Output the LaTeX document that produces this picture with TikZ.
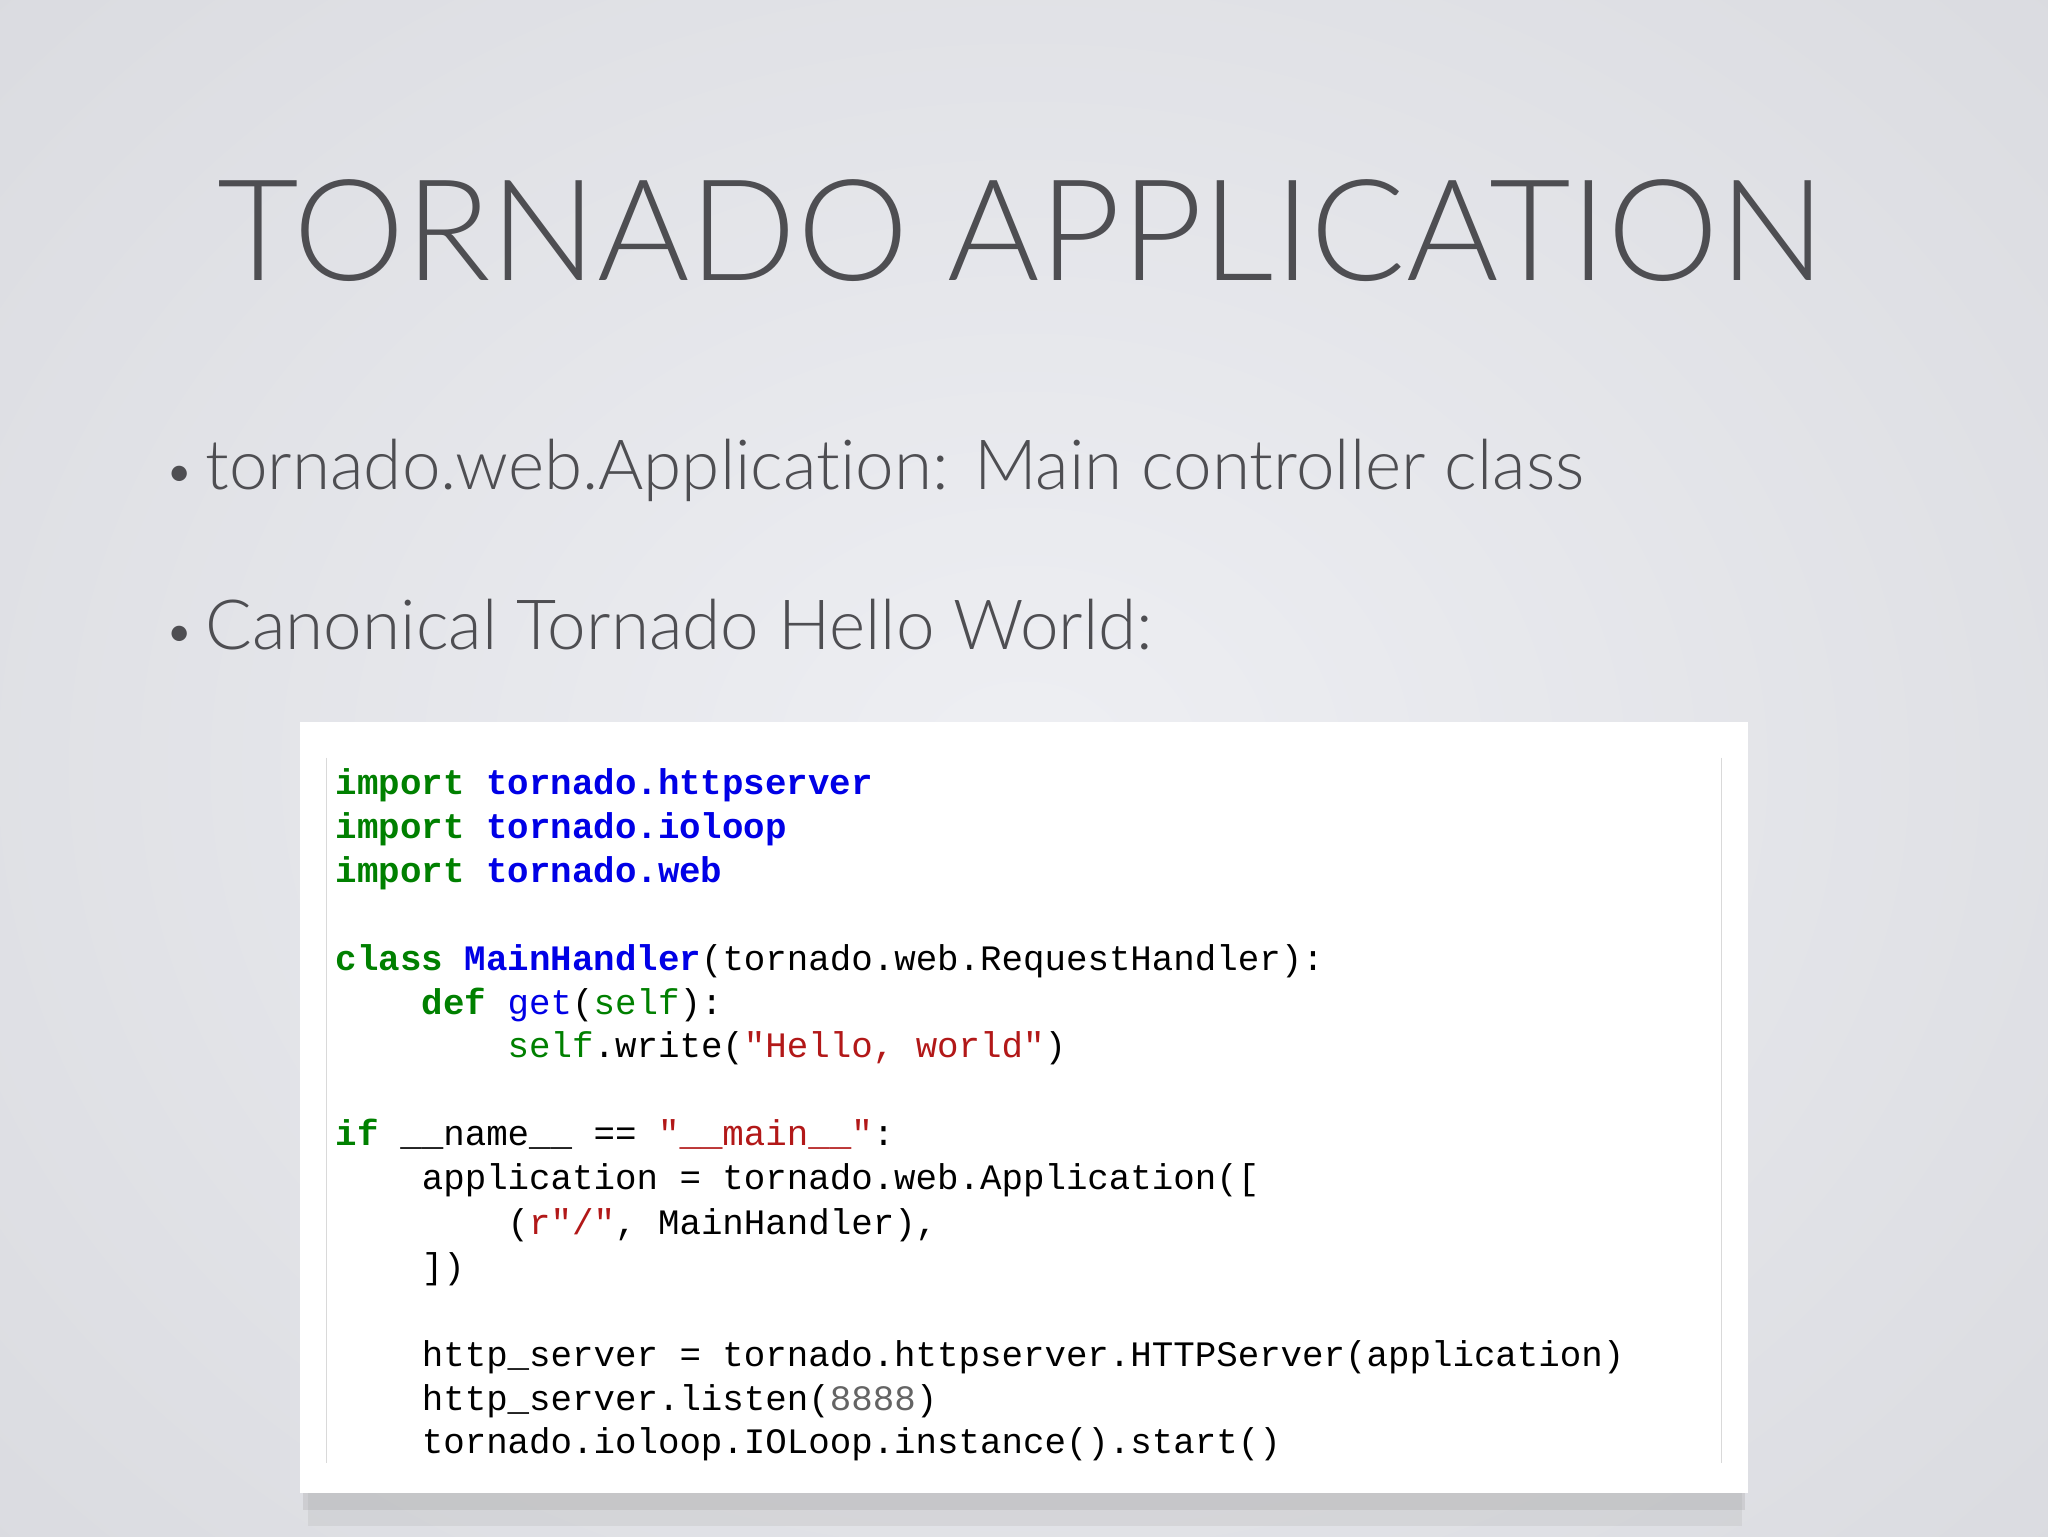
\documentclass[tikz,border=0pt]{standalone}
\usepackage{fontspec}
\setmainfont[Ligatures=NoCommon]{Lato Light}
\newfontfamily\codefont{Liberation Mono}
\definecolor{kw}{RGB}{0,128,0}
\definecolor{nm}{RGB}{0,0,230}
\definecolor{st}{RGB}{178,24,24}
\definecolor{nu}{RGB}{100,100,100}
\definecolor{ttl}{RGB}{78,78,82}
\definecolor{bgin}{RGB}{238,239,243}
\definecolor{bgout}{RGB}{218,219,224}
\begin{document}
\begin{tikzpicture}[x=1pt,y=-1pt,
  code/.style={anchor=base west,inner sep=0pt,font=\codefont\fontsize{27.4}{30}\selectfont},
  bul/.style={anchor=base west,inner sep=0pt,text=ttl,font=\fontsize{53}{60}\selectfont}]
\useasboundingbox (0,0) rectangle (1568,1176);
\shade[inner color=bgin, outer color=bgout] (-300,-300) rectangle (1868,1476);
\fill[gray!60,opacity=0.25] (236,1140) rectangle (1334,1168);
\fill[gray!70,opacity=0.3] (232,1140) rectangle (1336,1156);
\fill[white] (230,553) rectangle (1338,1143);
\draw[gray!30,line width=1pt] (250,580) -- (250,1120);
\draw[gray!30,line width=1pt] (1318,580) -- (1318,1120);
\node[anchor=base,inner sep=0pt,text=ttl,font=\fontsize{108}{110}\selectfont] (title) at (782,215) {TORNADO APPLICATION};
\node[bul] (b1) at (126,375) {{\fontsize{40}{40}\selectfont•}\hspace{8pt}tornado.web.Application: Main controller class};
\node[bul] (b2) at (126,497) {{\fontsize{40}{40}\selectfont•}\hspace{8pt}Canonical Tornado Hello World:};
\node[code] (l1) at (257,608) {\textcolor{kw}{\bfseries import} \textcolor{nm}{\bfseries tornado.httpserver}};
\node[code] (l2) at (257,642) {\textcolor{kw}{\bfseries import} \textcolor{nm}{\bfseries tornado.ioloop}};
\node[code] (l3) at (257,676) {\textcolor{kw}{\bfseries import} \textcolor{nm}{\bfseries tornado.web}};
\node[code] (l5) at (257,743) {\textcolor{kw}{\bfseries class} \textcolor{nm}{\bfseries MainHandler}(tornado.web.RequestHandler):};
\node[code] (l6) at (257,777) {\phantom{xxxx}\textcolor{kw}{\bfseries def} \textcolor{nm}{get}(\textcolor{kw}{self}):};
\node[code] (l7) at (257,810) {\phantom{xxxxxxxx}\textcolor{kw}{self}.write(\textcolor{st}{"Hello, world"})};
\node[code] (l9) at (257,877) {\textcolor{kw}{\bfseries if} \_\_name\_\_ == \textcolor{st}{"\_\_main\_\_"}:};
\node[code] (l10) at (257,911) {\phantom{xxxx}application = tornado.web.Application([};
\node[code] (l11) at (257,945) {\phantom{xxxxxxxx}(\textcolor{st}{r"/"}, MainHandler),};
\node[code] (l12) at (257,979) {\phantom{xxxx}])};
\node[code] (l14) at (257,1046) {\phantom{xxxx}http\_server = tornado.httpserver.HTTPServer(application)};
\node[code] (l15) at (257,1080) {\phantom{xxxx}http\_server.listen(\textcolor{nu}{8888})};
\node[code] (l16) at (257,1113) {\phantom{xxxx}tornado.ioloop.IOLoop.instance().start()};
\end{tikzpicture}
\end{document}
